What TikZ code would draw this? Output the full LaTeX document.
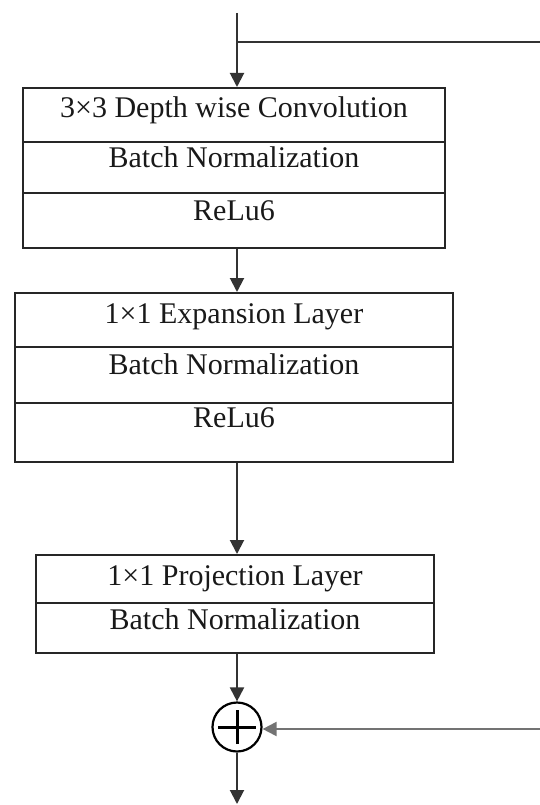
\documentclass[tikz,border=0pt]{standalone}
\usepackage{fontspec}
\setmainfont{Liberation Serif}
\usetikzlibrary{arrows.meta}
\begin{document}
\begin{tikzpicture}[x=1pt,y=-1pt,
  cell/.style={draw=black!85, line width=2pt, rectangle, inner xsep=0pt, inner ysep=0pt,
    anchor=north west, align=center, font=\fontsize{30}{36}\selectfont, text=black!90},
  conn/.style={draw=black!80, line width=2pt},
  arr/.style={conn, -{Triangle[width=14pt,length=14pt]}},
  sumnode/.style={draw=black, line width=2.2pt, circle, minimum size=49pt, inner sep=0pt},
  plusline/.style={draw=black, line width=3pt}
]
\useasboundingbox (0,0) rectangle (540,805);
% block 1
\node[cell, minimum width=422pt, text height=30pt, text depth=24pt] (b1a) at (22,87) {3×3 Depth wise Convolution};
\node[cell, minimum width=422pt, text height=25.7pt, text depth=25.3pt] (b1b) at (22,141) {Batch Normalization};
\node[cell, minimum width=422pt, text height=27pt, text depth=28pt] (b1c) at (22,192) {ReLu6};
% block 2
\node[cell, minimum width=438pt, text height=30pt, text depth=24pt] (b2a) at (14,292) {1×1 Expansion Layer};
\node[cell, minimum width=438pt, text height=27pt, text depth=29pt] (b2b) at (14,346) {Batch Normalization};
\node[cell, minimum width=438pt, text height=24pt, text depth=35pt] (b2c) at (14,402) {ReLu6};
% block 3
\node[cell, minimum width=398pt, text height=30pt, text depth=18pt] (b3a) at (35,554) {1×1 Projection Layer};
\node[cell, minimum width=398pt, text height=26pt, text depth=24pt] (b3b) at (35,602) {Batch Normalization};
% sum
\node[sumnode] (add) at (237,727) {};
\draw[plusline] ([xshift=-19pt]add.center) -- ([xshift=19pt]add.center);
\draw[plusline] ([yshift=-17pt]add.center) -- ([yshift=17pt]add.center);
% coordinates
\coordinate (in) at (237,13);
\coordinate (skipout) at (540,42);
\coordinate (skipin) at (540,729);
\coordinate (out) at (237,804);
% connectors
\draw[arr] (in) -- (in |- b1a.north);
\draw[conn] (in |- skipout) -- (skipout);
\draw[arr] (in |- b1c.south) -- (in |- b2a.north);
\draw[arr] (in |- b2c.south) -- (in |- b3a.north);
\draw[arr] (in |- b3b.south) -- (add.north);
\draw[arr, draw=black!55] (skipin) -- (add.east |- skipin);
\draw[arr] (add.south) -- (out);
\end{tikzpicture}
\end{document}
